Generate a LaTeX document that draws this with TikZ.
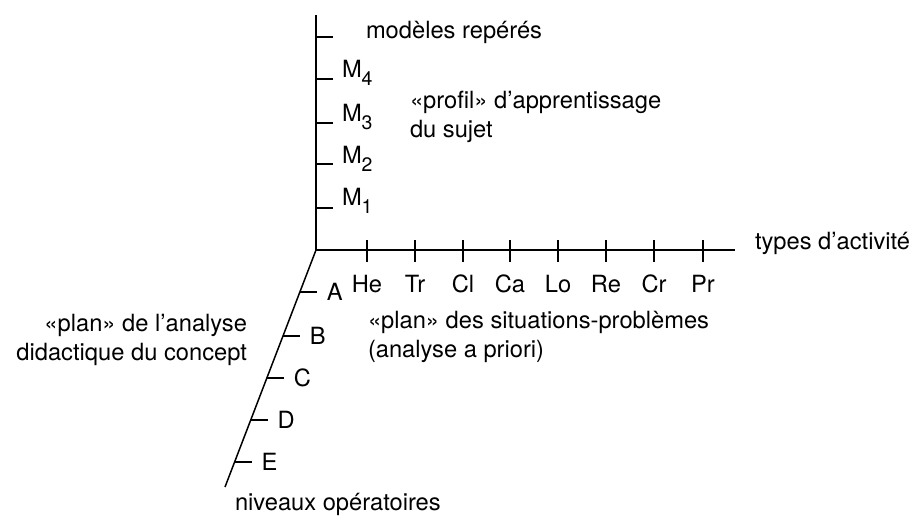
\documentclass[tikz,border=0pt]{standalone}
\usepackage{fontspec}
\setmainfont{TeX Gyre Heros}
\begin{document}
\begin{tikzpicture}[x=1pt,y=-1pt,
  axis/.style={line width=1.5pt},
  tick/.style={line width=1.1pt},
  lbl/.style={font=\fontsize{23.7}{29}\selectfont, inner sep=0pt, outer sep=0pt},
  msub/.style={lbl, anchor=base west},
  xlbl/.style={lbl, anchor=base},
  zlbl/.style={lbl, anchor=west}]
\useasboundingbox (0,0) rectangle (919,515);
\newcommand{\Msub}[1]{M\raisebox{-8.5pt}{\fontsize{19.5}{19.5}\selectfont #1}}
% axes
\coordinate (O) at (316,250);
\coordinate (Ytop) at (316,15);
\coordinate (Xend) at (735,250);
\coordinate (Zend) at (225,487);
\draw[axis] (Ytop) -- (O) -- (Xend);
\draw[axis] (O) -- (Zend);
% vertical ticks
\foreach \y/\n in {37/t0,79/t4,123/t3,164/t2,208/t1}{
  \coordinate (\n a) at (316,\y);
  \coordinate (\n b) at (333,\y);
  \draw[tick] (\n a) -- (\n b);
}
\node[msub] (m4) at (342,77) {\Msub{4}};
\node[msub] (m3) at (342,121) {\Msub{3}};
\node[msub] (m2) at (342,163) {\Msub{2}};
\node[msub] (m1) at (342,205) {\Msub{1}};
\node[lbl, anchor=base west] (mod) at (366,38) {modèles repérés};
% horizontal ticks
\foreach \x/\t in {367/He,415/Tr,463/Cl,510/Ca,558/Lo,606/Re,654/Cr,703/Pr}{
  \coordinate (\t a) at (\x,240);
  \coordinate (\t b) at (\x,262);
  \draw[tick] (\t a) -- (\t b);
  \node[xlbl] (l\t) at (\x,292) {\t};
}
\node[lbl, anchor=base west] (types) at (755,249) {types d’activité};
% oblique ticks
\foreach \y/\L in {292/A,336/B,378/C,420/D,462/E}{
  \pgfmathsetmacro{\xx}{316-0.384*(\y-250)}
  \coordinate (\L a) at (\xx,\y);
  \coordinate (\L b) at (\xx+17,\y);
  \draw[tick] (\L a) -- (\L b);
  \node[zlbl] (z\L) at ([xshift=10pt]\L b) {\L};
}
\node[lbl, anchor=base west] (niv) at (235,510) {niveaux opératoires};
% descriptive texts
\node[lbl, anchor=base west, align=left] (prof) at (410,137) {«profil» d’apprentissage\\du sujet};
\node[lbl, anchor=base east, align=right] (planA) at (247,360) {«plan» de l’analyse\\didactique du concept};
\node[lbl, anchor=base west, align=left] (planS) at (368,357) {«plan» des situations-problèmes\\(analyse a priori)};
\end{tikzpicture}
\end{document}
